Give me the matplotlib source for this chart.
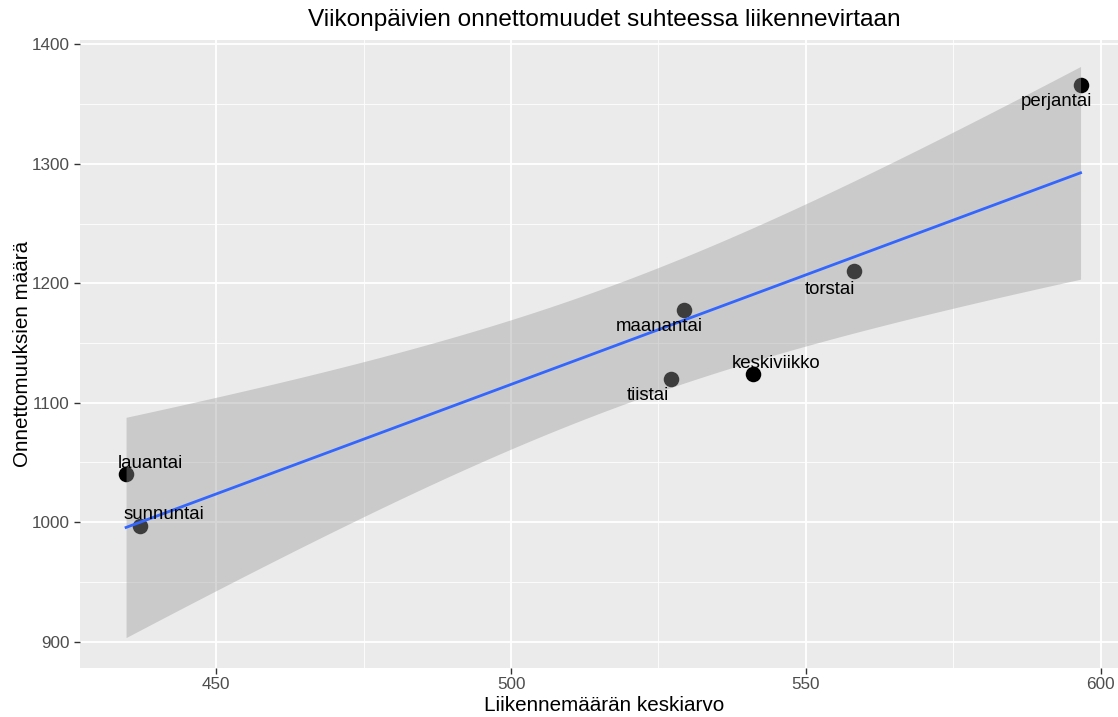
import numpy as np
import matplotlib
matplotlib.use("Agg")
import matplotlib.pyplot as plt
from matplotlib.ticker import MultipleLocator

days = ["maanantai", "tiistai", "keskiviikko", "torstai", "perjantai", "lauantai", "sunnuntai"]
traffic = [529.4, 527.2, 541.1, 558.1, 596.6, 434.7, 437.1]
accidents = [1178, 1120, 1124, 1210, 1366, 1040, 997]
# label offsets in pixels (dx, dy)
label_dx = [-25, -24, 23, -24, -24, 24, 24]
label_dy = [-17, -17, 11, -18, -17, 11, 11]

x = np.array(traffic)
y = np.array(accidents)
n = len(x)
b1, b0 = np.polyfit(x, y, 1)
resid = y - (b0 + b1 * x)
s = np.sqrt(np.sum(resid ** 2) / (n - 2))
tq = 2.570582  # t(0.975, df=5)
xg = np.linspace(x.min(), x.max(), 80)
yg = b0 + b1 * xg
se = s * np.sqrt(1 / n + (xg - x.mean()) ** 2 / np.sum((x - x.mean()) ** 2))

plt.rcParams['font.family'] = ['Liberation Sans', 'DejaVu Sans']

fig = plt.figure(figsize=(11.18, 7.17), dpi=100)
W, H = 1118, 717
left, right, top, bottom = 79.5, 1128.3, 39.5, 667.5
ax = fig.add_axes([left / W, 1 - bottom / H, (right - left) / W, (bottom - top) / H])
ax.set_facecolor('#EBEBEB')
for sp in ax.spines.values():
    sp.set_visible(False)

ax.set_xlim(426.8, 604.7)
ax.set_ylim(878.4, 1404)
ax.xaxis.set_major_locator(MultipleLocator(50))
ax.xaxis.set_minor_locator(MultipleLocator(25))
ax.yaxis.set_major_locator(MultipleLocator(100))
ax.yaxis.set_minor_locator(MultipleLocator(50))
ax.grid(which='major', color='white', lw=1.3)
ax.grid(which='minor', color='white', lw=0.6)
ax.set_axisbelow(True)
ax.tick_params(which='major', length=4, width=1, color='#333333', labelcolor='#4D4D4D', labelsize=12.3, pad=3)
ax.tick_params(which='minor', length=0)

ax.scatter(x, y, s=125, color='black', zorder=2, linewidths=0)
ax.fill_between(xg, yg - tq * se, yg + tq * se, color='#999999', alpha=0.4, lw=0, zorder=3)
ax.plot(xg, yg, color='#3366FF', lw=2, zorder=4)

for d, xi, yi, dx, dy in zip(days, traffic, accidents, label_dx, label_dy):
    ax.annotate(d, (xi, yi), xytext=(dx, dy), textcoords='offset pixels',
                ha='center', va='center', fontsize=13.4, color='black', zorder=5)

ax.set_xlabel("Liikennemäärän keskiarvo", fontsize=14.9, labelpad=3)
ax.set_ylabel("Onnettomuuksien määrä", fontsize=14.9, labelpad=0)
ax.set_title("Viikonpäivien onnettomuudet suhteessa liikennevirtaan", fontsize=17.6, pad=10)

fig.savefig("out.png", dpi=100)
